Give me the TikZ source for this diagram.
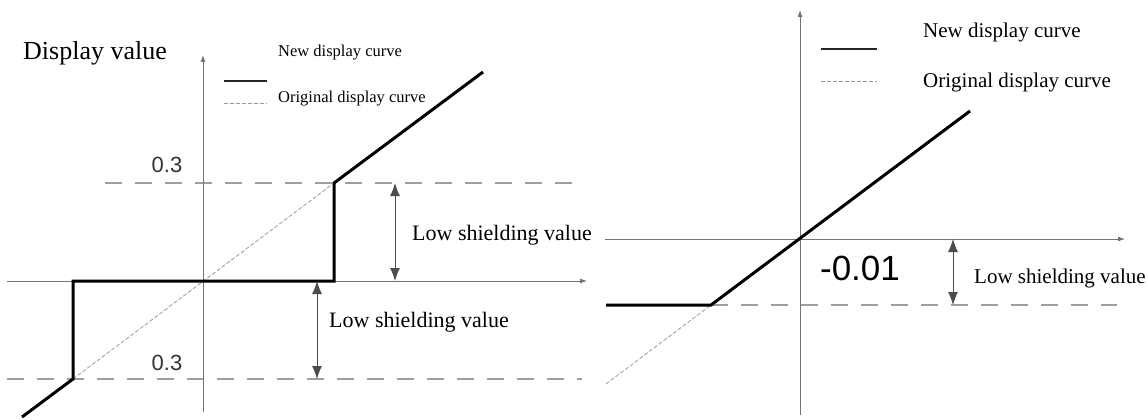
\documentclass[tikz,border=0pt]{standalone}
\usepackage{fontspec}
\setmainfont{Liberation Serif}
\newfontfamily\timesfont{Liberation Serif}
\newfontfamily\arialfont{Liberation Sans}
\usetikzlibrary{arrows.meta}

\begin{document}
\begin{tikzpicture}[x=1pt,y=-1pt,
  axisline/.style={draw=black!55, line width=0.9pt, -{Latex[length=7pt,width=5pt]}},
  guide/.style={draw=black!38, line width=1.1pt, dash pattern=on 17pt off 13pt},
  origcurve/.style={draw=black!40, line width=0.8pt, dash pattern=on 4pt off 2pt},
  newcurve/.style={draw=black, line width=3pt, line join=miter},
  legendsolid/.style={draw=black!85, line width=2.2pt},
  span/.style={draw=black!70, line width=0.9pt, {Latex[length=13pt,width=10pt]}-{Latex[length=13pt,width=10pt]}},
  txt/.style={inner sep=0pt, anchor=west},
  num/.style={inner sep=0pt, font=\arialfont\fontsize{22}{24}\selectfont, text=black!80}
]
\useasboundingbox (0,0) rectangle (1148,420);

% ---------- left panel ----------
\coordinate (LXs) at (7,281);   \coordinate (LXe) at (587,281);
\coordinate (LYs) at (203,412); \coordinate (LYe) at (203,55);
\coordinate (LA) at (22,417);   \coordinate (LB) at (73,379);
\coordinate (LC) at (73,281);   \coordinate (LD) at (334,281);
\coordinate (LE) at (334,183);  \coordinate (LF) at (483,72);

\draw[guide] (105,183) -- (585,183);
\draw[guide] (7,379) -- (582,379);
\draw[axisline] (LXs) -- (LXe);
\draw[axisline] (LYs) -- (LYe);
\draw[origcurve] (LB) -- (LE);
\draw[newcurve] (LA) -- (LB) -- (LC) -- (LD) -- (LE) -- (LF);

\coordinate (S1t) at (395,183); \coordinate (S1b) at (395,281);
\coordinate (S2t) at (317,281); \coordinate (S2b) at (317,379);
\draw[span] (S1t) -- (S1b);
\draw[span] (S2t) -- (S2b);

\node[txt, font=\timesfont\fontsize{26}{30}\selectfont] (ltitle) at (23,53) {Display value};
\draw[legendsolid] (224,81) coordinate (ls1) -- (267,81) coordinate (ls2);
\draw[origcurve] (224,103) coordinate (ld1) -- (267,103) coordinate (ld2);
\node[txt, font=\timesfont\fontsize{16.5}{19}\selectfont] (lnew) at (278,53) {New display curve};
\node[txt, font=\timesfont\fontsize{16.5}{19}\selectfont] (lorig) at (278,99) {Original display curve};
\node[num] (lup) at (167,165) {0.3};
\node[num] (llow) at (167,363) {0.3};
\node[txt, font=\timesfont\fontsize{22}{25}\selectfont] (lshu) at (412,235) {Low shielding value};
\node[txt, font=\timesfont\fontsize{22}{25}\selectfont] (lshl) at (329,322) {Low shielding value};

% ---------- right panel ----------
\coordinate (RXs) at (605,239);  \coordinate (RXe) at (1125,239);
\coordinate (RYs) at (800,415);  \coordinate (RYe) at (800,10);
\coordinate (RA) at (606,305);   \coordinate (RB) at (711,305);
\coordinate (RC) at (970,111);   \coordinate (RD) at (606,384);

\draw[guide] (RB) -- (1117,305);
\draw[axisline] (RXs) -- (RXe);
\draw[axisline] (RYs) -- (RYe);
\draw[origcurve] (RD) -- (RB);
\draw[newcurve] (RA) -- (RB) -- (RC);

\coordinate (S3t) at (953,239); \coordinate (S3b) at (953,305);
\draw[span] (S3t) -- (S3b);

\draw[legendsolid] (821,49) coordinate (rs1) -- (877,49) coordinate (rs2);
\draw[origcurve] (821,81) coordinate (rd1) -- (877,81) coordinate (rd2);
\node[txt, font=\timesfont\fontsize{21}{24}\selectfont] (rnew) at (923,32) {New display curve};
\node[txt, font=\timesfont\fontsize{21}{24}\selectfont] (rorig) at (923,82) {Original display curve};
\node[num, font=\arialfont\fontsize{35}{38}\selectfont, text=black] (rval) at (860,268) {-0.01};
\node[txt, font=\timesfont\fontsize{21}{24}\selectfont] (rsh) at (974,278) {Low shielding value};
\end{tikzpicture}
\end{document}
